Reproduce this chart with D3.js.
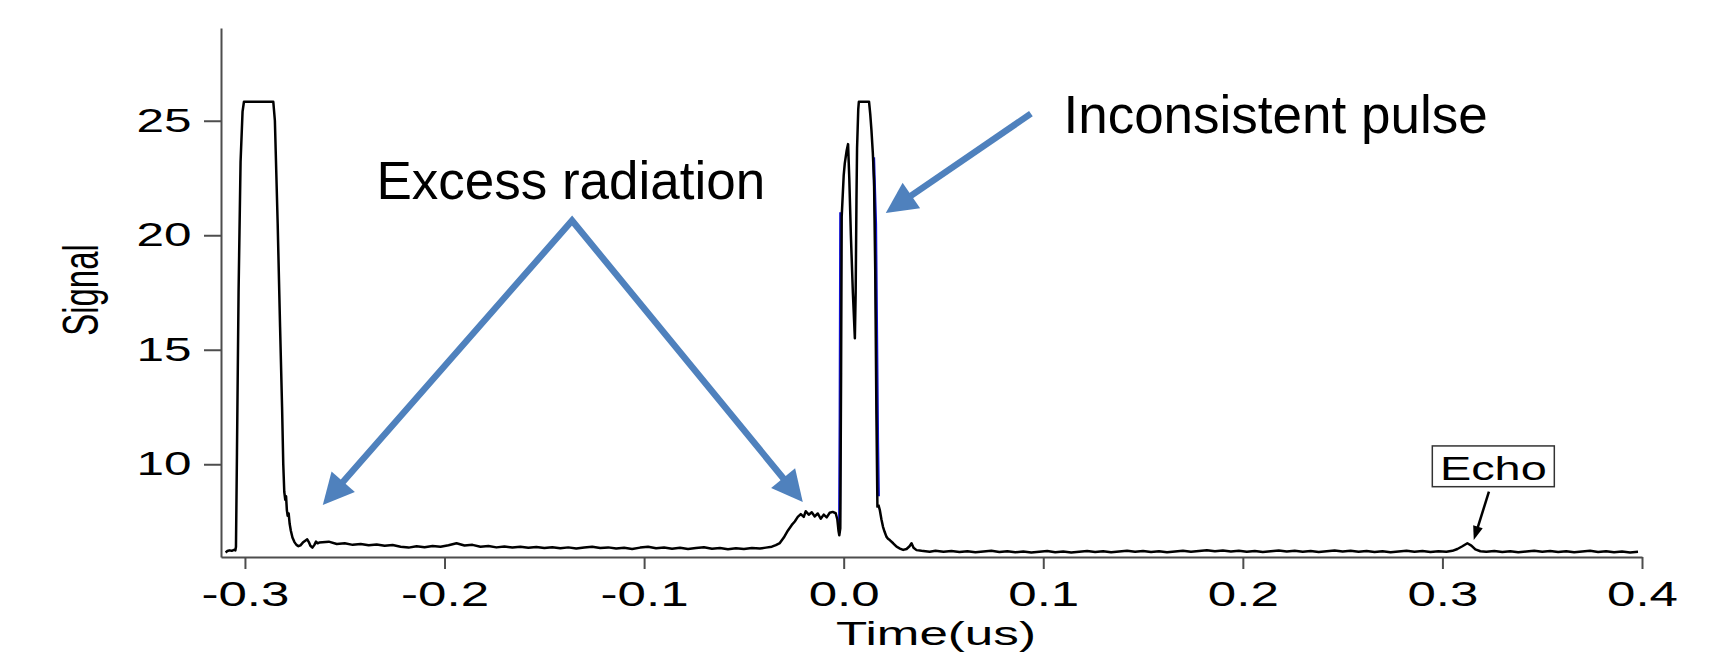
<!DOCTYPE html>
<html lang="en">
<head>
<meta charset="utf-8">
<title>Signal vs time</title>
<script src="https://cdnjs.cloudflare.com/ajax/libs/d3/7.8.5/d3.min.js"></script>
<style>
body { margin: 0; background: #fff; }
.axis text { font-family: "Liberation Sans", Arial, sans-serif; font-size: 33px; fill: #000; }
.x.axis text { font-size: 35px; }
.axis path, .axis line { stroke: #4d4d4d; stroke-width: 2; }
.label { font-family: "Liberation Sans", Arial, sans-serif; font-size: 33px; fill: #000; }
.note { font-family: "Liberation Sans", Arial, sans-serif; font-size: 53px; fill: #000; }
</style>
</head>
<body>
<div id="chart"></div>
<script>
var width = 1729, height = 656;
var stretch = 1.5; // the original plot was stretched sideways

var xTicks = [-0.3, -0.2, -0.1, 0.0, 0.1, 0.2, 0.3, 0.4];
var yTicks = [10, 15, 20, 25];

// [time (us), signal]
var pulse1 = [
  [-0.3097, 6.15], [-0.3088, 6.21], [-0.3078, 6.24], [-0.3066, 6.22], [-0.3055, 6.26], [-0.3048, 6.24],
  [-0.3045, 6.4], [-0.3040, 10.5], [-0.3032, 17.5], [-0.3022, 23.2], [-0.3012, 25.4], [-0.3005, 25.83],
  [-0.2858, 25.83], [-0.2850, 25.0], [-0.2836, 20.5], [-0.2824, 16.0], [-0.2814, 12.5], [-0.2808, 10.0],
  [-0.2803, 8.8], [-0.2798, 8.45], [-0.2794, 8.6], [-0.2790, 8.0], [-0.2786, 7.75], [-0.2781, 7.85],
  [-0.2776, 7.4], [-0.2770, 7.1], [-0.2762, 6.8], [-0.2752, 6.6], [-0.2742, 6.48], [-0.2732, 6.42],
  [-0.2722, 6.46], [-0.2710, 6.58], [-0.2698, 6.66], [-0.2688, 6.72], [-0.2680, 6.6], [-0.2672, 6.44],
  [-0.2662, 6.36], [-0.2652, 6.48], [-0.2644, 6.62], [-0.2636, 6.55], [-0.2628, 6.58]
];

var baseline1 = [
  [-0.258, 6.62], [-0.254, 6.52], [-0.250, 6.55], [-0.246, 6.48], [-0.242, 6.52], [-0.238, 6.46],
  [-0.234, 6.50], [-0.230, 6.44], [-0.226, 6.47], [-0.222, 6.40], [-0.218, 6.36], [-0.214, 6.42],
  [-0.210, 6.38], [-0.206, 6.43], [-0.202, 6.40], [-0.198, 6.46], [-0.194, 6.55], [-0.190, 6.45],
  [-0.186, 6.48], [-0.182, 6.40], [-0.178, 6.43], [-0.174, 6.37], [-0.170, 6.41], [-0.166, 6.36],
  [-0.162, 6.40], [-0.158, 6.35], [-0.154, 6.39], [-0.150, 6.34], [-0.146, 6.38], [-0.142, 6.33],
  [-0.138, 6.37], [-0.134, 6.32], [-0.130, 6.36], [-0.126, 6.40], [-0.122, 6.34], [-0.118, 6.37],
  [-0.114, 6.32], [-0.110, 6.35], [-0.106, 6.30], [-0.102, 6.36], [-0.098, 6.40], [-0.094, 6.33],
  [-0.090, 6.36], [-0.086, 6.31], [-0.082, 6.35], [-0.078, 6.30], [-0.074, 6.34], [-0.070, 6.38],
  [-0.066, 6.31], [-0.062, 6.34], [-0.058, 6.29], [-0.054, 6.33], [-0.050, 6.30], [-0.046, 6.34],
  [-0.042, 6.32], [-0.039, 6.36], [-0.036, 6.40], [-0.034, 6.47]
];

var prepulse = [
  [-0.032, 6.56], [-0.030, 6.80], [-0.028, 7.10], [-0.026, 7.35], [-0.0245, 7.50], [-0.023, 7.70],
  [-0.0215, 7.82], [-0.020, 7.70], [-0.019, 7.95], [-0.0175, 7.80], [-0.016, 7.90], [-0.0145, 7.72],
  [-0.013, 7.85], [-0.0115, 7.62], [-0.010, 7.80], [-0.0085, 7.68], [-0.007, 7.88], [-0.0055, 7.92],
  [-0.004, 7.86], [-0.0032, 7.60], [-0.0026, 7.10], [-0.0022, 6.90], [-0.0017, 7.20]
];

var pulse2 = [
  [-0.0013, 14.0], [-0.0010, 20.8], [0.0000, 22.6], [0.00055, 23.14], [0.0015, 23.7], [0.0022, 23.98],
  [0.0028, 22.5], [0.0036, 20.0], [0.0046, 17.5], [0.0056, 15.5], [0.0060, 17.5], [0.0064, 21.5],
  [0.0067, 23.8], [0.0073, 25.5], [0.0076, 25.83], [0.0127, 25.83], [0.0133, 25.3], [0.0139, 24.6],
  [0.0146, 23.6], [0.0152, 22.4], [0.0158, 18.5], [0.0164, 12.2], [0.0169, 8.15], [0.0175, 8.2],
  [0.0181, 8.0], [0.0189, 7.6], [0.0197, 7.27], [0.0205, 7.05], [0.0214, 6.84], [0.0222, 6.75],
  [0.0231, 6.69], [0.0248, 6.55], [0.0265, 6.40], [0.0282, 6.32], [0.0298, 6.26], [0.0315, 6.30],
  [0.0330, 6.42], [0.0340, 6.55], [0.0350, 6.35], [0.0365, 6.25], [0.0390, 6.22], [0.0410, 6.20],
  [0.0431, 6.18]
];

var baseline2 = [
  [0.046, 6.22], [0.050, 6.18], [0.054, 6.21], [0.058, 6.17], [0.062, 6.20], [0.066, 6.16],
  [0.070, 6.19], [0.074, 6.22], [0.078, 6.17], [0.082, 6.20], [0.086, 6.16], [0.090, 6.19],
  [0.094, 6.15], [0.098, 6.18], [0.102, 6.21], [0.106, 6.16], [0.110, 6.19], [0.114, 6.15],
  [0.118, 6.18], [0.122, 6.21], [0.126, 6.17], [0.130, 6.20], [0.134, 6.16], [0.138, 6.19],
  [0.142, 6.22], [0.146, 6.18], [0.150, 6.21], [0.154, 6.17], [0.158, 6.20], [0.162, 6.16],
  [0.166, 6.19], [0.170, 6.22], [0.174, 6.18], [0.178, 6.21], [0.182, 6.24], [0.186, 6.20],
  [0.190, 6.23], [0.194, 6.19], [0.198, 6.22], [0.202, 6.18], [0.206, 6.21], [0.210, 6.17],
  [0.214, 6.20], [0.218, 6.23], [0.222, 6.19], [0.226, 6.22], [0.230, 6.18], [0.234, 6.21],
  [0.238, 6.17], [0.242, 6.20], [0.246, 6.23], [0.250, 6.19], [0.254, 6.22], [0.258, 6.18],
  [0.262, 6.21], [0.266, 6.17], [0.270, 6.20], [0.274, 6.16], [0.278, 6.19], [0.282, 6.22],
  [0.286, 6.18], [0.290, 6.21], [0.294, 6.17], [0.298, 6.20], [0.302, 6.18], [0.305, 6.22],
  [0.3075, 6.30], [0.310, 6.42], [0.3125, 6.55], [0.3145, 6.45], [0.3165, 6.28], [0.319, 6.20],
  [0.322, 6.18], [0.326, 6.21], [0.330, 6.17], [0.334, 6.20], [0.338, 6.16], [0.342, 6.19],
  [0.346, 6.22], [0.350, 6.18], [0.354, 6.21], [0.358, 6.17], [0.362, 6.20], [0.366, 6.16],
  [0.370, 6.19], [0.374, 6.22], [0.378, 6.17], [0.382, 6.20], [0.386, 6.16], [0.390, 6.19],
  [0.394, 6.15], [0.398, 6.18]
];

// second (blue) trace, only visible on the edges of the main pulse
var blueRise = [[-0.0021, 7.0], [-0.0018, 12.0], [-0.0015, 21.0]];
var blueFall = [[0.0150, 23.4], [0.0160, 20.5], [0.0170, 11.0], [0.0174, 8.6]];

// annotations, in data units
var excessApex = [-0.1361, 20.64];
var excessTips = [[-0.261, 8.22], [-0.0205, 8.35]];
var pulseArrow = [[0.0938, 25.31], [0.0211, 20.97]];
var echoArrow = [[0.3233, 8.80], [0.3157, 6.69]];

var svg = d3.select("#chart").append("svg")
    .attr("width", width)
    .attr("height", height);

var x = d3.scaleLinear().domain([-0.312, 0.4]).range([221, 1642]);
var y = d3.scaleLinear().domain([5.95, 29.05]).range([557, 28]);

var xAxis = d3.axisBottom(x)
    .tickValues(xTicks)
    .tickFormat(function(d) { return d.toFixed(1); })
    .tickSize(12)
    .tickSizeOuter(0);
var yAxis = d3.axisLeft(y)
    .tickValues(yTicks)
    .tickSize(17)
    .tickSizeOuter(0);

var gx = svg.append("g")
    .attr("class", "x axis")
    .attr("transform", "translate(0," + y.range()[0] + ")")
    .call(xAxis);
gx.selectAll("text")
    .attr("y", 24)
    .attr("dy", "0.71em")
    .attr("transform", "scale(1.46,1)");

var gy = svg.append("g")
    .attr("class", "y axis")
    .attr("transform", "translate(" + x.range()[0] + ",0)")
    .call(yAxis);
gy.selectAll("text")
    .attr("x", -29.5 / stretch)
    .attr("transform", "scale(" + stretch + ",1)");

svg.append("text")
    .attr("class", "label")
    .attr("text-anchor", "middle")
    .attr("transform", "translate(936,645) scale(1.55,1)")
    .text("Time(us)");

svg.append("text")
    .attr("class", "label")
    .attr("text-anchor", "middle")
    .attr("transform", "translate(98,290) rotate(-90) scale(1," + stretch + ")")
    .text("Signal");

var line = d3.line()
    .x(function(d) { return x(d[0]); })
    .y(function(d) { return y(d[1]); });

[blueRise, blueFall].forEach(function(seg) {
  svg.append("path")
      .datum(seg)
      .attr("d", line)
      .attr("fill", "none")
      .attr("stroke", "#1010d0")
      .attr("stroke-width", 3);
});

var trace = pulse1.concat(baseline1, prepulse, pulse2, baseline2);
svg.append("path")
    .datum(trace)
    .attr("class", "line")
    .attr("d", line)
    .attr("fill", "none")
    .attr("stroke", "black")
    .attr("stroke-width", 2.5)
    .attr("stroke-linejoin", "round");

// arrow head at tip p, pointing away from q; returns where the shaft should stop
function head(p, q, len, w, color) {
  var dx = p[0] - q[0], dy = p[1] - q[1], d = Math.hypot(dx, dy);
  var ux = dx / d, uy = dy / d;
  var bx = p[0] - ux * len, by = p[1] - uy * len;
  var pts = [[p[0], p[1]], [bx - uy * w / 2, by + ux * w / 2], [bx + uy * w / 2, by - ux * w / 2]];
  svg.append("path").attr("d", "M" + pts.join("L") + "Z").attr("fill", color);
  return [bx + ux * 2, by + uy * 2];
}
function px(d) { return [x(d[0]), y(d[1])]; }

var blue = "#4f81bd";
var apex = px(excessApex);
var ends = excessTips.map(function(t) { return head(px(t), apex, 31, 31, blue); });
svg.append("path")
    .attr("d", "M" + ends[0] + "L" + apex + "L" + ends[1])
    .attr("fill", "none")
    .attr("stroke", blue)
    .attr("stroke-width", 6.5)
    .attr("stroke-linejoin", "miter");

var pa = px(pulseArrow[0]);
var pend = head(px(pulseArrow[1]), pa, 31, 31, blue);
svg.append("path")
    .attr("d", "M" + pa + "L" + pend)
    .attr("stroke", blue)
    .attr("stroke-width", 6.5);

svg.append("text")
    .attr("class", "note")
    .attr("text-anchor", "middle")
    .attr("x", x(-0.1367))
    .attr("y", y(21.6))
    .text("Excess radiation");

svg.append("text")
    .attr("class", "note")
    .attr("text-anchor", "middle")
    .attr("x", x(0.2164))
    .attr("y", y(24.46))
    .text("Inconsistent pulse");

// echo label
var ea = px(echoArrow[0]);
var eend = head(px(echoArrow[1]), ea, 14, 10, "#000");
svg.append("path")
    .attr("d", "M" + ea + "L" + eend)
    .attr("stroke", "#000")
    .attr("stroke-width", 2.5);

var ex = x(0.3255);
svg.append("rect")
    .attr("x", ex - 61)
    .attr("y", y(10.8))
    .attr("width", 122)
    .attr("height", y(9.02) - y(10.8))
    .attr("fill", "#fff")
    .attr("stroke", "#333")
    .attr("stroke-width", 1.5);
svg.append("text")
    .attr("class", "label")
    .attr("text-anchor", "middle")
    .attr("transform", "translate(" + ex + "," + (y(9.02) - 6.5) + ") scale(1.42,1)")
    .text("Echo");
</script>
</body>
</html>
